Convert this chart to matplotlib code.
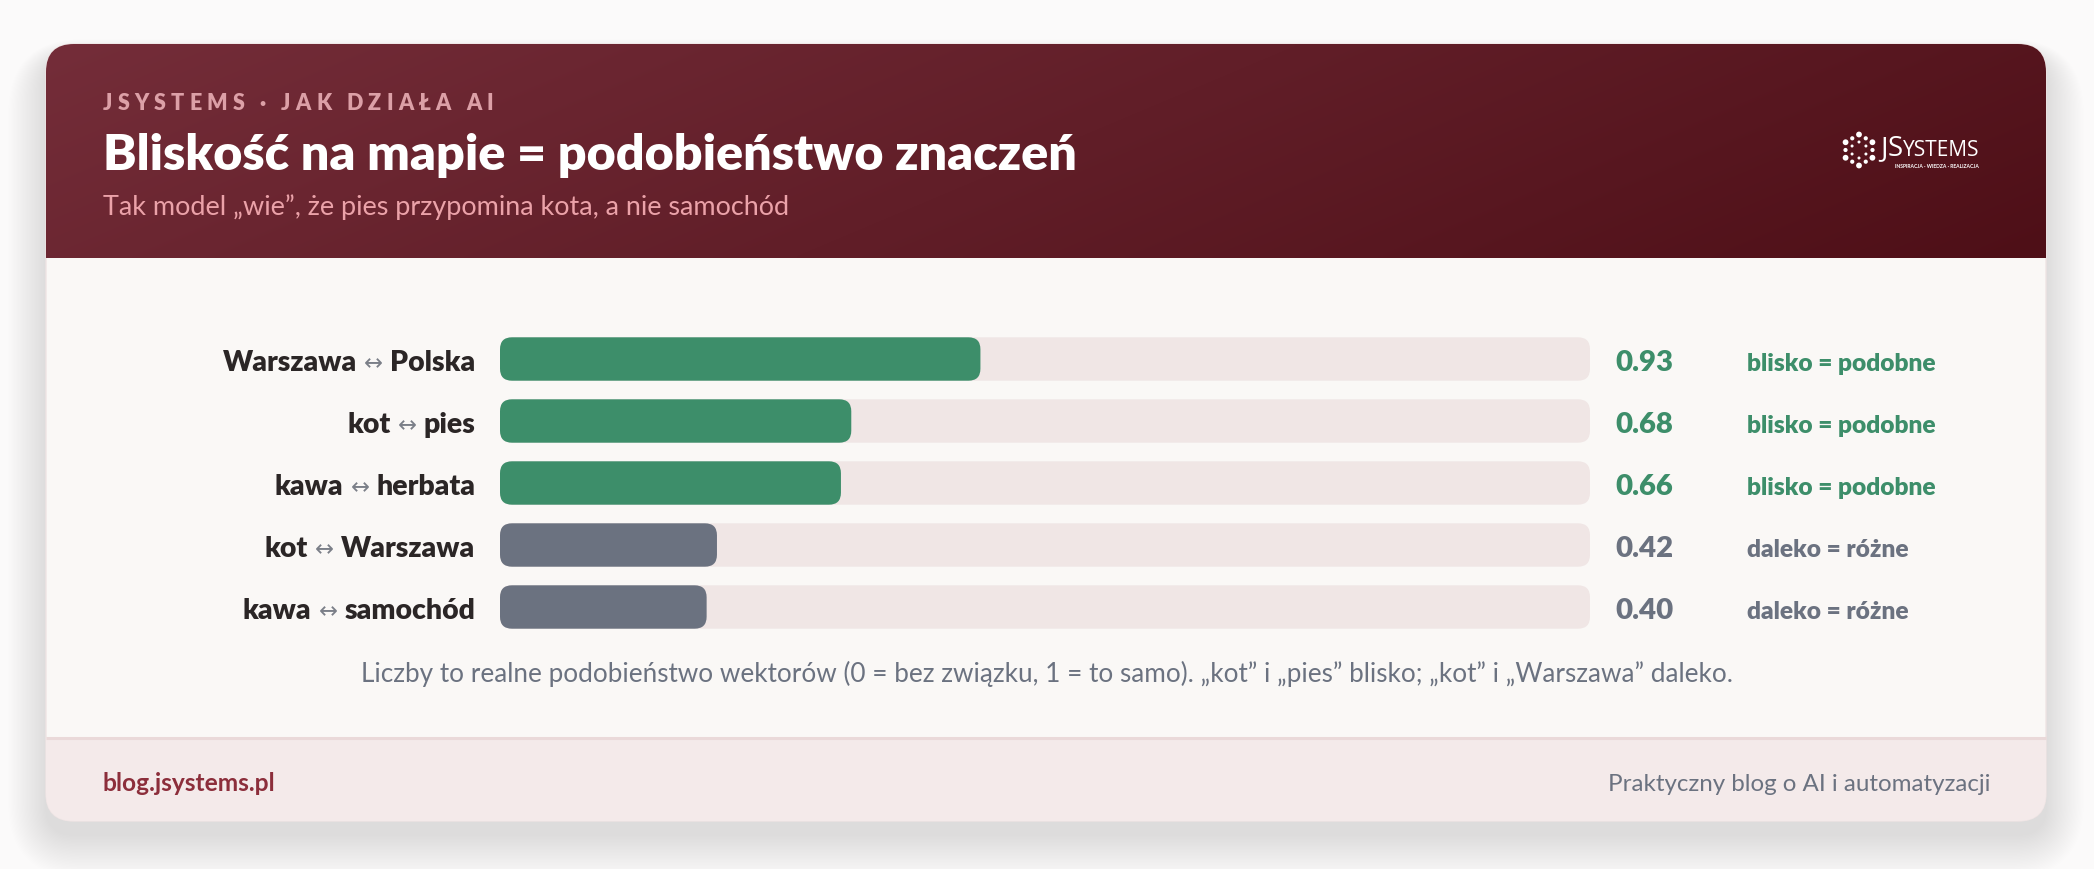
import numpy as np
import matplotlib
matplotlib.use("Agg")
import matplotlib.pyplot as plt
from matplotlib.patches import FancyBboxPatch, Rectangle, Circle

# ---------------- data ----------------
kicker = "JSYSTEMS · JAK DZIAŁA AI"
title = "Bliskość na mapie = podobieństwo znaczeń"
subtitle = "Tak model „wie”, że pies przypomina kota, a nie samochód"
pair_left = ["Warszawa", "kot", "kawa", "kot", "kawa"]
pair_right = ["Polska", "pies", "herbata", "Warszawa", "samochód"]
similarity = [0.93, 0.68, 0.66, 0.42, 0.40]
verdict = ["blisko = podobne", "blisko = podobne", "blisko = podobne",
           "daleko = różne", "daleko = różne"]
is_close = [True, True, True, False, False]
caption = ("Liczby to realne podobieństwo wektorów (0 = bez związku, 1 = to samo). "
           "„kot” i „pies” blisko; „kot” i „Warszawa” daleko.")
footer_left = "blog.jsystems.pl"
footer_right = "Praktyczny blog o AI i automatyzacji"
logo_main = ("J", "S", "YSTEMS")
logo_tag = "INSPIRACJA · WIEDZA · REALIZACJA"

# ---------------- style ----------------
W, H, DPI = 2094, 870, 100
FONT = ["Lato", "DejaVu Sans"]
GREEN = "#3d8e6a"
GREY_BAR = "#6b7280"
TRACK = "#f0e6e5"
BODY = "#faf8f6"
FOOT = "#f4eaea"
TEXT = "#2b2626"
MUTED = "#6b7280"
TRACK_MAX = 2.11   # the track spans this much similarity in the original
HEAVY = 800

plt.rcParams["font.family"] = FONT
fig = plt.figure(figsize=(W / DPI, H / DPI), dpi=DPI, facecolor="#fbfafa")
bg = fig.add_axes([0, 0, 1, 1])
bg.set_xlim(0, W)
bg.set_ylim(H, 0)
bg.axis("off")
R = fig.canvas.get_renderer()


def width_of(t):
    return t.get_window_extent(R).width


def fit(t, target):
    for _ in range(2):
        t.set_fontsize(t.get_fontsize() * target / width_of(t))
    return t


# ---------------- card + shadow ----------------
CX0, CY0, CX1, CY1 = 46, 45, 2046, 822
RAD = 28
for i in range(30):
    d = 1 + i * 1.6
    sh = FancyBboxPatch((CX0 - d * 0.8, CY0 - d * 0.4 + 14), CX1 - CX0 + 1.6 * d,
                        CY1 - CY0 + 1.3 * d,
                        boxstyle=f"round,pad=0,rounding_size={RAD + d}",
                        fc=(0.42, 0.30, 0.31), ec="none", alpha=0.0055, zorder=0)
    bg.add_patch(sh)

card = FancyBboxPatch((CX0, CY0), CX1 - CX0, CY1 - CY0,
                      boxstyle=f"round,pad=0,rounding_size={RAD}",
                      fc=BODY, ec="#efe4e4", lw=1.0, zorder=1)
bg.add_patch(card)

HEAD_B = 259
FOOT_T = 739
# header gradient
gx = np.linspace(0, 1, 400)
gy = np.linspace(0, 1, 60)
GX, GY = np.meshgrid(gx, gy)
tt = np.clip(0.8 * GX + 0.2 * GY, 0, 1)
c0 = np.array([0x74, 0x2d, 0x39]) / 255
c1 = np.array([0x4e, 0x0f, 0x17]) / 255
img = c0[None, None, :] * (1 - tt[..., None]) + c1[None, None, :] * tt[..., None]
im = bg.imshow(img, extent=(CX0, CX1, HEAD_B, CY0), aspect="auto", zorder=2,
               interpolation="bilinear")
im.set_clip_path(card)
foot = Rectangle((CX0, FOOT_T), CX1 - CX0, CY1 - FOOT_T, fc=FOOT, ec="none", zorder=2)
bg.add_patch(foot)
foot.set_clip_path(card)
bg.plot([CX0, CX1], [FOOT_T, FOOT_T], color="#ead9d9", lw=2.2, zorder=3,
        solid_capstyle="butt")

# ---------------- header text ----------------
# kicker with letter spacing
KX, KY = 103, 110
kick_kw = dict(fontsize=15.5, fontweight=HEAVY, color="#dca0a7", va="baseline",
               ha="left", zorder=5)
tmp = bg.text(0, 0, kicker, **kick_kw)
natural = width_of(tmp)
tmp.remove()
track_px = (390 - natural) / (len(kicker) - 1)
for i, ch in enumerate(kicker):
    if ch == " ":
        continue
    a = bg.text(0, 0, kicker[: i + 1], **kick_kw)
    b = bg.text(0, 0, ch, **kick_kw)
    xpos = KX + width_of(a) - width_of(b) + i * track_px
    a.remove()
    b.remove()
    bg.text(xpos, KY, ch, **kick_kw)

t = bg.text(103, 170.5, title, fontsize=32, fontweight=HEAVY, color="white",
            ha="left", va="baseline", zorder=5)
fit(t, 975)
t = bg.text(103, 215, subtitle, fontsize=17, color="#eba2a9", ha="left",
            va="baseline", zorder=5)
fit(t, 686)

# logo
LCX, LCY = 1859, 151
for k in range(6):
    ang = np.pi / 2 + k * np.pi / 3
    bg.add_patch(Circle((LCX + 15.5 * np.cos(ang), LCY - 15.5 * np.sin(ang)), 2.9,
                        fc="white", ec="none", zorder=5))
    ang2 = ang + np.pi / 6
    bg.add_patch(Circle((LCX + 13.5 * np.cos(ang2), LCY - 13.5 * np.sin(ang2)), 2.1,
                        fc="white", ec="none", zorder=5))
    bg.add_patch(Circle((LCX + 8 * np.cos(ang), LCY - 8 * np.sin(ang)), 1.5,
                        fc="white", ec="none", zorder=5))
lx = 1880
for part, fs in zip(logo_main, (20, 20, 15)):
    tl = bg.text(lx, 156, part, fontsize=fs, color="white", ha="left", va="baseline",
                 family=["Open Sans", "DejaVu Sans"], zorder=5)
    lx += width_of(tl) + 0.3
bg.text(1979, 168, logo_tag, fontsize=3.6, color="white", ha="right",
        va="baseline", fontweight="bold", zorder=5)

# ---------------- bars ----------------
rows = np.arange(len(similarity))
ROW_TOP, ROW_BOT = 329, 639
BAR_L, BAR_R = 500, 1590
ax = fig.add_axes([BAR_L / W, 1 - ROW_BOT / H, (BAR_R - BAR_L) / W, (ROW_BOT - ROW_TOP) / H])
ax.set_xlim(0, TRACK_MAX)
ax.set_ylim(len(rows) - 0.5, -0.5)
ax.axis("off")
ax.patch.set_alpha(0)

px_x = (BAR_R - BAR_L) / TRACK_MAX
px_y = (ROW_BOT - ROW_TOP) / len(rows)
aspect = px_x / px_y
r_px = 12

tracks = ax.barh(rows, [TRACK_MAX] * len(rows), height=0.7, color=TRACK)
bars = ax.barh(rows, similarity, height=0.7,
               color=[GREEN if c else GREY_BAR for c in is_close])


def round_it(rect, z):
    fp = FancyBboxPatch((rect.get_x(), rect.get_y()), rect.get_width(), rect.get_height(),
                        boxstyle=f"round,pad=0,rounding_size={r_px / px_x}",
                        mutation_aspect=aspect, fc=rect.get_facecolor(), ec="none",
                        zorder=z)
    rect.set_visible(False)
    ax.add_patch(fp)


for rct in tracks:
    round_it(rct, 1)
for rct in bars:
    round_it(rct, 2)

# ---------------- row text ----------------
row_y = ROW_TOP + (rows + 0.5) * px_y
LAB_R = 475.5
lab_kw = dict(fontweight=HEAVY, color=TEXT, va="baseline", zorder=5)
arr_kw = dict(color="#7b7f88", va="baseline", zorder=5, family=["DejaVu Sans"])

# label size fitted on first row
probe = bg.text(0, 0, pair_left[0] + " ↔ " + pair_right[0], fontsize=19.5, **lab_kw)
fit(probe, 255)
LFS = probe.get_fontsize() * 1.02
probe.remove()
val_probe = bg.text(0, 0, "0.93", fontsize=19.5, fontweight=HEAVY)
fit(val_probe, 58)
VFS = val_probe.get_fontsize()
val_probe.remove()
ver_probe = bg.text(0, 0, verdict[0], fontsize=15, fontweight=HEAVY)
fit(ver_probe, 189)
TFS = ver_probe.get_fontsize()
ver_probe.remove()

for i in rows:
    yb = row_y[i] + 11.5
    tr = bg.text(LAB_R, yb, pair_right[i], fontsize=LFS, ha="right", **lab_kw)
    x = LAB_R - width_of(tr) - 7
    ta = bg.text(x, yb - 1, "↔", fontsize=LFS * 0.8, ha="right", **arr_kw)
    x -= width_of(ta) + 7
    bg.text(x, yb, pair_left[i], fontsize=LFS, ha="right", **lab_kw)
    col = GREEN if is_close[i] else MUTED
    bg.text(1615, yb, f"{similarity[i]:.2f}", fontsize=VFS, fontweight=HEAVY,
            color=col, ha="left", va="baseline", zorder=5)
    bg.text(1747, yb - 0.5, verdict[i], fontsize=TFS, fontweight=HEAVY, color=col,
            ha="left", va="baseline", zorder=5)

# ---------------- caption + footer ----------------
t = bg.text(1047, 682, caption, fontsize=15, color=MUTED, ha="center",
            va="baseline", zorder=5)
fit(t, 1372)
t = bg.text(102, 791, footer_left, fontsize=15, fontweight="bold", color="#8c2e3b",
            ha="left", va="baseline", zorder=5)
fit(t, 173)
t = bg.text(1990, 791, footer_right, fontsize=15, color=MUTED, ha="right",
            va="baseline", zorder=5)
fit(t, 383)

fig.savefig("out.png", dpi=DPI, facecolor=fig.get_facecolor())
